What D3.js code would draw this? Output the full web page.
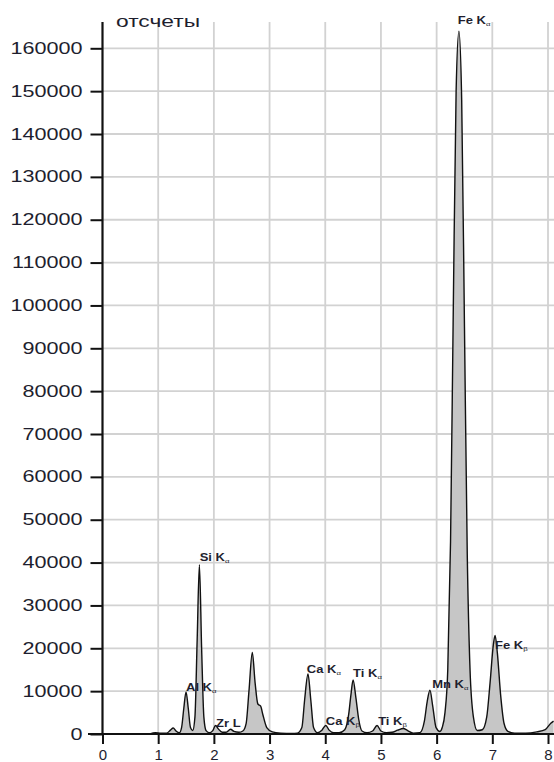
<!DOCTYPE html>
<html>
<head>
<meta charset="utf-8">
<script src="https://cdn.jsdelivr.net/npm/d3@7"></script>
<style>
  html, body { margin: 0; padding: 0; background: #fff; }
  svg { display: block; }
  text { font-family: "Liberation Sans", Arial, sans-serif; fill: #1e1e2e; }
</style>
</head>
<body>
<svg id="chart" width="554" height="762"></svg>
<script>
// Energy axis (keV) and count axis ticks
const energyTicks = [0, 1, 2, 3, 4, 5, 6, 7, 8];
const countTicks = [0, 10000, 20000, 30000, 40000, 50000, 60000, 70000, 80000,
  90000, 100000, 110000, 120000, 130000, 140000, 150000, 160000];
const yTitle = "отсчеты";

// Spectrum: energy (keV) and counts
const energy = [
  0.85, 0.95, 1.05, 1.15, 1.22, 1.27, 1.32, 1.38,
  1.42, 1.46, 1.50, 1.54, 1.58, 1.62,
  1.66, 1.70, 1.74, 1.78, 1.82, 1.86, 1.92,
  1.98, 2.03, 2.08, 2.15, 2.22, 2.30, 2.36, 2.45, 2.52,
  2.58, 2.63, 2.69, 2.74, 2.79, 2.84, 2.88, 2.95, 3.05, 3.20, 3.40, 3.50,
  3.58, 3.63, 3.69, 3.74, 3.79, 3.86, 3.94, 4.01, 4.07, 4.15, 4.25, 4.35,
  4.42, 4.46, 4.50, 4.55, 4.60, 4.66, 4.75, 4.85, 4.93, 5.00, 5.10, 5.20, 5.30, 5.40, 5.48, 5.58, 5.70,
  5.78, 5.83, 5.88, 5.93, 5.99, 6.06,
  6.10, 6.15, 6.20, 6.25, 6.30, 6.35, 6.40, 6.45, 6.50, 6.55, 6.60, 6.66, 6.73, 6.82,
  6.90, 6.96, 7.02, 7.05, 7.09, 7.15, 7.21, 7.28, 7.40, 7.60, 7.80, 7.95, 8.05, 8.10
];
const counts = [
  0, 300, 200, 200, 900, 1400, 700, 300,
  1500, 6000, 9800, 6000, 1500, 800,
  4000, 22000, 39500, 20000, 4000, 800, 300,
  800, 2000, 1200, 400, 400, 1100, 600, 400, 700,
  2500, 10000, 19000, 12000, 7000, 6500, 4500, 1500, 500, 200, 100, 200,
  1500, 8000, 14000, 8000, 1500, 300, 900, 2000, 900, 300, 300, 1000,
  4500, 9000, 12600, 8500, 3500, 700, 300, 700, 2000, 700, 300, 400, 900, 1300, 800, 200, 300,
  3000, 7500, 10200, 6500, 1500, 600,
  1500, 5000, 15000, 45000, 100000, 150000, 164000, 148000, 95000, 42000, 15000, 4000, 800, 1000,
  4000, 12000, 21000, 23000, 19000, 9000, 2500, 600, 200, 200, 500, 1000, 2500, 3000
];

// Line labels: element, line, anchor energy, anchor counts
const lineNames = ["Fe K", "Si K", "Al K", "Ca K", "Ti K", "Mn K", "Fe K", "Zr L", "Ca K", "Ti K"];
const lineSubs  = ["α", "α", "α", "α", "α", "α", "β", "", "β", "β"];
const lineE     = [6.38, 1.745, 1.50, 3.67, 4.50, 5.92, 7.05, 2.04, 4.01, 4.95];
const lineC     = [165700, 40400, 10000, 14230, 13300, 10730, 19830, 1630, 2100, 2100];

const svg = d3.select("#chart");
const W = 554;

const x = d3.scaleLinear().domain([0, 8]).range([102.5, 548]);
const y = d3.scaleLinear().domain([0, 160000]).range([734, 48.3]);
const plotTop = 22;

// grid
const grid = svg.append("g");
grid.selectAll("line.h").data(countTicks.filter(d => d > 0)).join("line")
  .attr("x1", x(0)).attr("x2", W)
  .attr("y1", d => y(d)).attr("y2", d => y(d))
  .attr("stroke", "#d2d2d2").attr("stroke-width", 1.8);
grid.selectAll("line.v").data(energyTicks.filter(d => d > 0)).join("line")
  .attr("x1", d => x(d)).attr("x2", d => x(d))
  .attr("y1", plotTop).attr("y2", y(0))
  .attr("stroke", "#d2d2d2").attr("stroke-width", 1.8);

// spectrum
const pts = energy.map((e, i) => [e, counts[i]]);
svg.append("clipPath").attr("id", "plotclip")
  .append("rect").attr("x", x(0)).attr("y", 0).attr("width", W - x(0)).attr("height", y(0));
const area = d3.area().x(d => x(d[0])).y0(y(0)).y1(d => y(d[1])).curve(d3.curveMonotoneX);
const line = d3.line().x(d => x(d[0])).y(d => y(d[1])).curve(d3.curveMonotoneX);
const spec = svg.append("g").attr("clip-path", "url(#plotclip)");
spec.append("path").datum(pts).attr("d", area).attr("fill", "#c6c6c6");
spec.append("path").datum(pts).attr("d", line)
  .attr("fill", "none").attr("stroke", "#111").attr("stroke-width", 1.4)
  .attr("stroke-linejoin", "round");

// axes
const yAxis = svg.append("g").attr("transform", `translate(${x(0)},0)`)
  .call(d3.axisLeft(y).tickValues(countTicks).tickSize(12).tickPadding(8).tickFormat(d3.format("d")));
yAxis.select(".domain").remove();
yAxis.selectAll(".tick line").attr("stroke", "#111").attr("stroke-width", 2);
yAxis.selectAll(".tick text")
  .attr("x", 0).attr("font-size", 16)
  .attr("transform", "translate(-20,0) scale(1.35,1)")
  .style("fill", "#1e1e2e");

const xAxis = svg.append("g").attr("transform", `translate(0,${y(0)})`)
  .call(d3.axisBottom(x).tickValues(energyTicks).tickSize(10).tickPadding(5).tickFormat(d3.format("d")));
xAxis.select(".domain").remove();
xAxis.selectAll(".tick line").attr("stroke", "#111").attr("stroke-width", 2);
xAxis.selectAll(".tick text").attr("font-size", 15).style("fill", "#1e1e2e");

svg.append("line").attr("x1", x(0)).attr("x2", x(0)).attr("y1", plotTop).attr("y2", y(0))
  .attr("stroke", "#111").attr("stroke-width", 2.2);
svg.append("line").attr("x1", 88).attr("x2", W).attr("y1", y(0)).attr("y2", y(0))
  .attr("stroke", "#111").attr("stroke-width", 2.2);

// axis title
svg.append("text").attr("x", 116).attr("y", 27)
  .attr("font-size", 16).attr("textLength", 84).attr("lengthAdjust", "spacingAndGlyphs")
  .text(yTitle);

// line labels
const lab = svg.append("g");
lineNames.forEach((n, i) => {
  const t = lab.append("text")
    .attr("transform", `translate(${x(lineE[i])},${y(lineC[i])}) scale(1.3,1)`)
    .attr("font-size", 10).attr("font-weight", "bold");
  t.append("tspan").text(n);
  if (lineSubs[i]) {
    t.append("tspan").attr("font-size", 6).attr("font-weight", "normal").attr("dy", 2).text(lineSubs[i]);
  }
});
</script>
</body>
</html>
